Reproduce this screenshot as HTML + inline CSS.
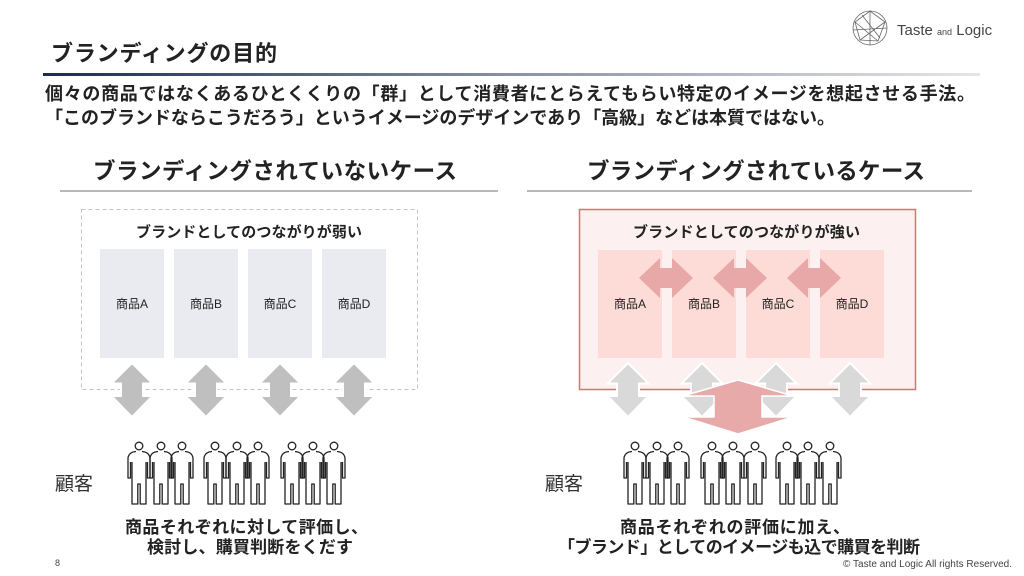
<!DOCTYPE html>
<html><head><meta charset="utf-8"><style>
html,body{margin:0;padding:0;background:#fff;}
svg{display:block;}
text{font-family:"Liberation Sans","Noto Sans CJK JP",sans-serif;fill:#222;}
.b{font-weight:700;}
</style></head><body>
<svg width="1024" height="576" viewBox="0 0 1024 576" xmlns="http://www.w3.org/2000/svg">
<defs>
<linearGradient id="lg" x1="0" x2="1" y1="0" y2="0">
<stop offset="0" stop-color="#1c2a4e"/>
<stop offset="0.5" stop-color="#8a91a3"/>
<stop offset="1" stop-color="#e6e6e6"/>
</linearGradient>
<g id="p" fill="none" stroke="#222" stroke-width="1.3" stroke-linejoin="round">
<circle cx="0" cy="0" r="3.8"/>
<path d="M -3,5.5 Q -10,6 -11,12 L -11,32 L -8.5,32 L -8.5,16 M -7,16 L -7,58 L -1.2,58 L -1.2,38 L 1.2,38 L 1.2,58 L 7,58 L 7,16 M 8.5,16 L 8.5,32 L 11,32 L 11,12 Q 10,6 3,5.5"/>
</g>
<polygon id="va" points="0,363 20.5,383.5 11,383.5 11,396 20.5,396 0,417 -20.5,396 -11,396 -11,383.5 -20.5,383.5"/>
<polygon id="ha" points="-27,278 -6,258 -6,268 6,268 6,258 27,278 6,298 6,288 -6,288 -6,298"/>
</defs>

<!-- logo -->
<g fill="none" stroke="#666" stroke-width="0.8">
<circle cx="870" cy="28" r="17"/>
<polygon points="870,11 885,22 878,41 860,40 855,22"/>
<path d="M855,22 L878,41 M885,22 L860,40 M870,11 L870,45 M853,30 L887,28 M862,15 L880,38"/>
</g>
<text x="897" y="35" font-size="15" fill="#444" style="fill:#444">Taste <tspan font-size="9">and</tspan> Logic</text>

<!-- title -->
<text x="51" y="61" font-size="22" class="b" textLength="226" lengthAdjust="spacing">ブランディングの目的</text>
<rect x="43" y="73" width="937" height="3" fill="url(#lg)"/>
<text x="45" y="100" font-size="18" class="b" textLength="930" lengthAdjust="spacing">個々の商品ではなくあるひとくくりの「群」として消費者にとらえてもらい特定のイメージを想起させる手法。</text>
<text x="45" y="124" font-size="18" class="b" textLength="790" lengthAdjust="spacing">「このブランドならこうだろう」というイメージのデザインであり「高級」などは本質ではない。</text>

<!-- section headings -->
<text x="93" y="179" font-size="22.5" class="b" textLength="364" lengthAdjust="spacing">ブランディングされていないケース</text>
<rect x="60" y="190" width="438" height="2" fill="#b8b8b8"/>
<text x="587" y="179" font-size="22.5" class="b" textLength="338" lengthAdjust="spacing">ブランディングされているケース</text>
<rect x="527" y="190" width="445" height="2" fill="#b8b8b8"/>

<!-- left diagram -->
<rect x="81.5" y="209.5" width="336" height="180" fill="#fff" stroke="#c4c4c4" stroke-width="1" stroke-dasharray="4,3"/>
<text x="136" y="237" font-size="15" class="b" textLength="226" lengthAdjust="spacing">ブランドとしてのつながりが弱い</text>
<g fill="#eaebf0">
<rect x="100" y="249" width="64" height="109"/>
<rect x="174" y="249" width="64" height="109"/>
<rect x="248" y="249" width="64" height="109"/>
<rect x="322" y="249" width="64" height="109"/>
</g>
<g font-size="12" text-anchor="middle" style="fill:#333">
<text x="132" y="308">商品A</text>
<text x="206" y="308">商品B</text>
<text x="280" y="308">商品C</text>
<text x="354" y="308">商品D</text>
</g>
<g fill="#bfbfbf" stroke="#fff" stroke-width="2">
<use href="#va" x="132"/>
<use href="#va" x="206"/>
<use href="#va" x="280"/>
<use href="#va" x="354"/>
</g>

<!-- right diagram -->
<rect x="579.5" y="209.5" width="336" height="180" fill="#fcf0f0" stroke="#e07070" stroke-width="1.5"/>
<text x="633" y="237" font-size="15" class="b" textLength="227" lengthAdjust="spacing">ブランドとしてのつながりが強い</text>
<g fill="#fddcd8">
<rect x="598" y="250" width="64" height="108"/>
<rect x="672" y="250" width="64" height="108"/>
<rect x="746" y="250" width="64" height="108"/>
<rect x="820" y="250" width="64" height="108"/>
</g>
<g font-size="12" text-anchor="middle" style="fill:#333">
<text x="630" y="308">商品A</text>
<text x="704" y="308">商品B</text>
<text x="778" y="308">商品C</text>
<text x="852" y="308">商品D</text>
</g>
<g fill="#e8a8a8">
<use href="#ha" x="666"/>
<use href="#ha" x="740"/>
<use href="#ha" x="814"/>
</g>
<g fill="#d9d9d9" stroke="#fff" stroke-width="2">
<use href="#va" x="628"/>
<use href="#va" x="702"/>
<use href="#va" x="776"/>
<use href="#va" x="850"/>
</g>
<polygon points="738,380 793,396 762,396 762,417 793,417 738,434 683,417 714,417 714,396 683,396" fill="#e8a9a9" stroke="#fff" stroke-width="1.5"/>

<!-- people left -->
<g transform="translate(0,446)">
<use href="#p" x="139"/><use href="#p" x="161"/><use href="#p" x="182"/>
<use href="#p" x="215"/><use href="#p" x="237"/><use href="#p" x="258"/>
<use href="#p" x="292"/><use href="#p" x="313"/><use href="#p" x="334"/>
</g>
<!-- people right -->
<g transform="translate(0,446)">
<use href="#p" x="635"/><use href="#p" x="657"/><use href="#p" x="678"/>
<use href="#p" x="712"/><use href="#p" x="733"/><use href="#p" x="755"/>
<use href="#p" x="787"/><use href="#p" x="808"/><use href="#p" x="830"/>
</g>

<text x="55" y="490" font-size="19" style="fill:#333" textLength="38" lengthAdjust="spacing">顧客</text>
<text x="545" y="490" font-size="19" style="fill:#333" textLength="38" lengthAdjust="spacing">顧客</text>

<text x="125" y="533" font-size="17" class="b" textLength="243" lengthAdjust="spacing">商品それぞれに対して評価し、</text>
<text x="147" y="553" font-size="17" class="b" textLength="206" lengthAdjust="spacing">検討し、購買判断をくだす</text>
<text x="620" y="533" font-size="17" class="b" textLength="230" lengthAdjust="spacing">商品それぞれの評価に加え、</text>
<text x="558" y="553" font-size="17" class="b" textLength="362" lengthAdjust="spacing">「ブランド」としてのイメージも込で購買を判断</text>

<text x="55" y="566" font-size="9" style="fill:#444">8</text>
<text x="1012" y="567" font-size="10" text-anchor="end" style="fill:#444">© Taste and Logic All rights Reserved.</text>
</svg>
</body></html>
